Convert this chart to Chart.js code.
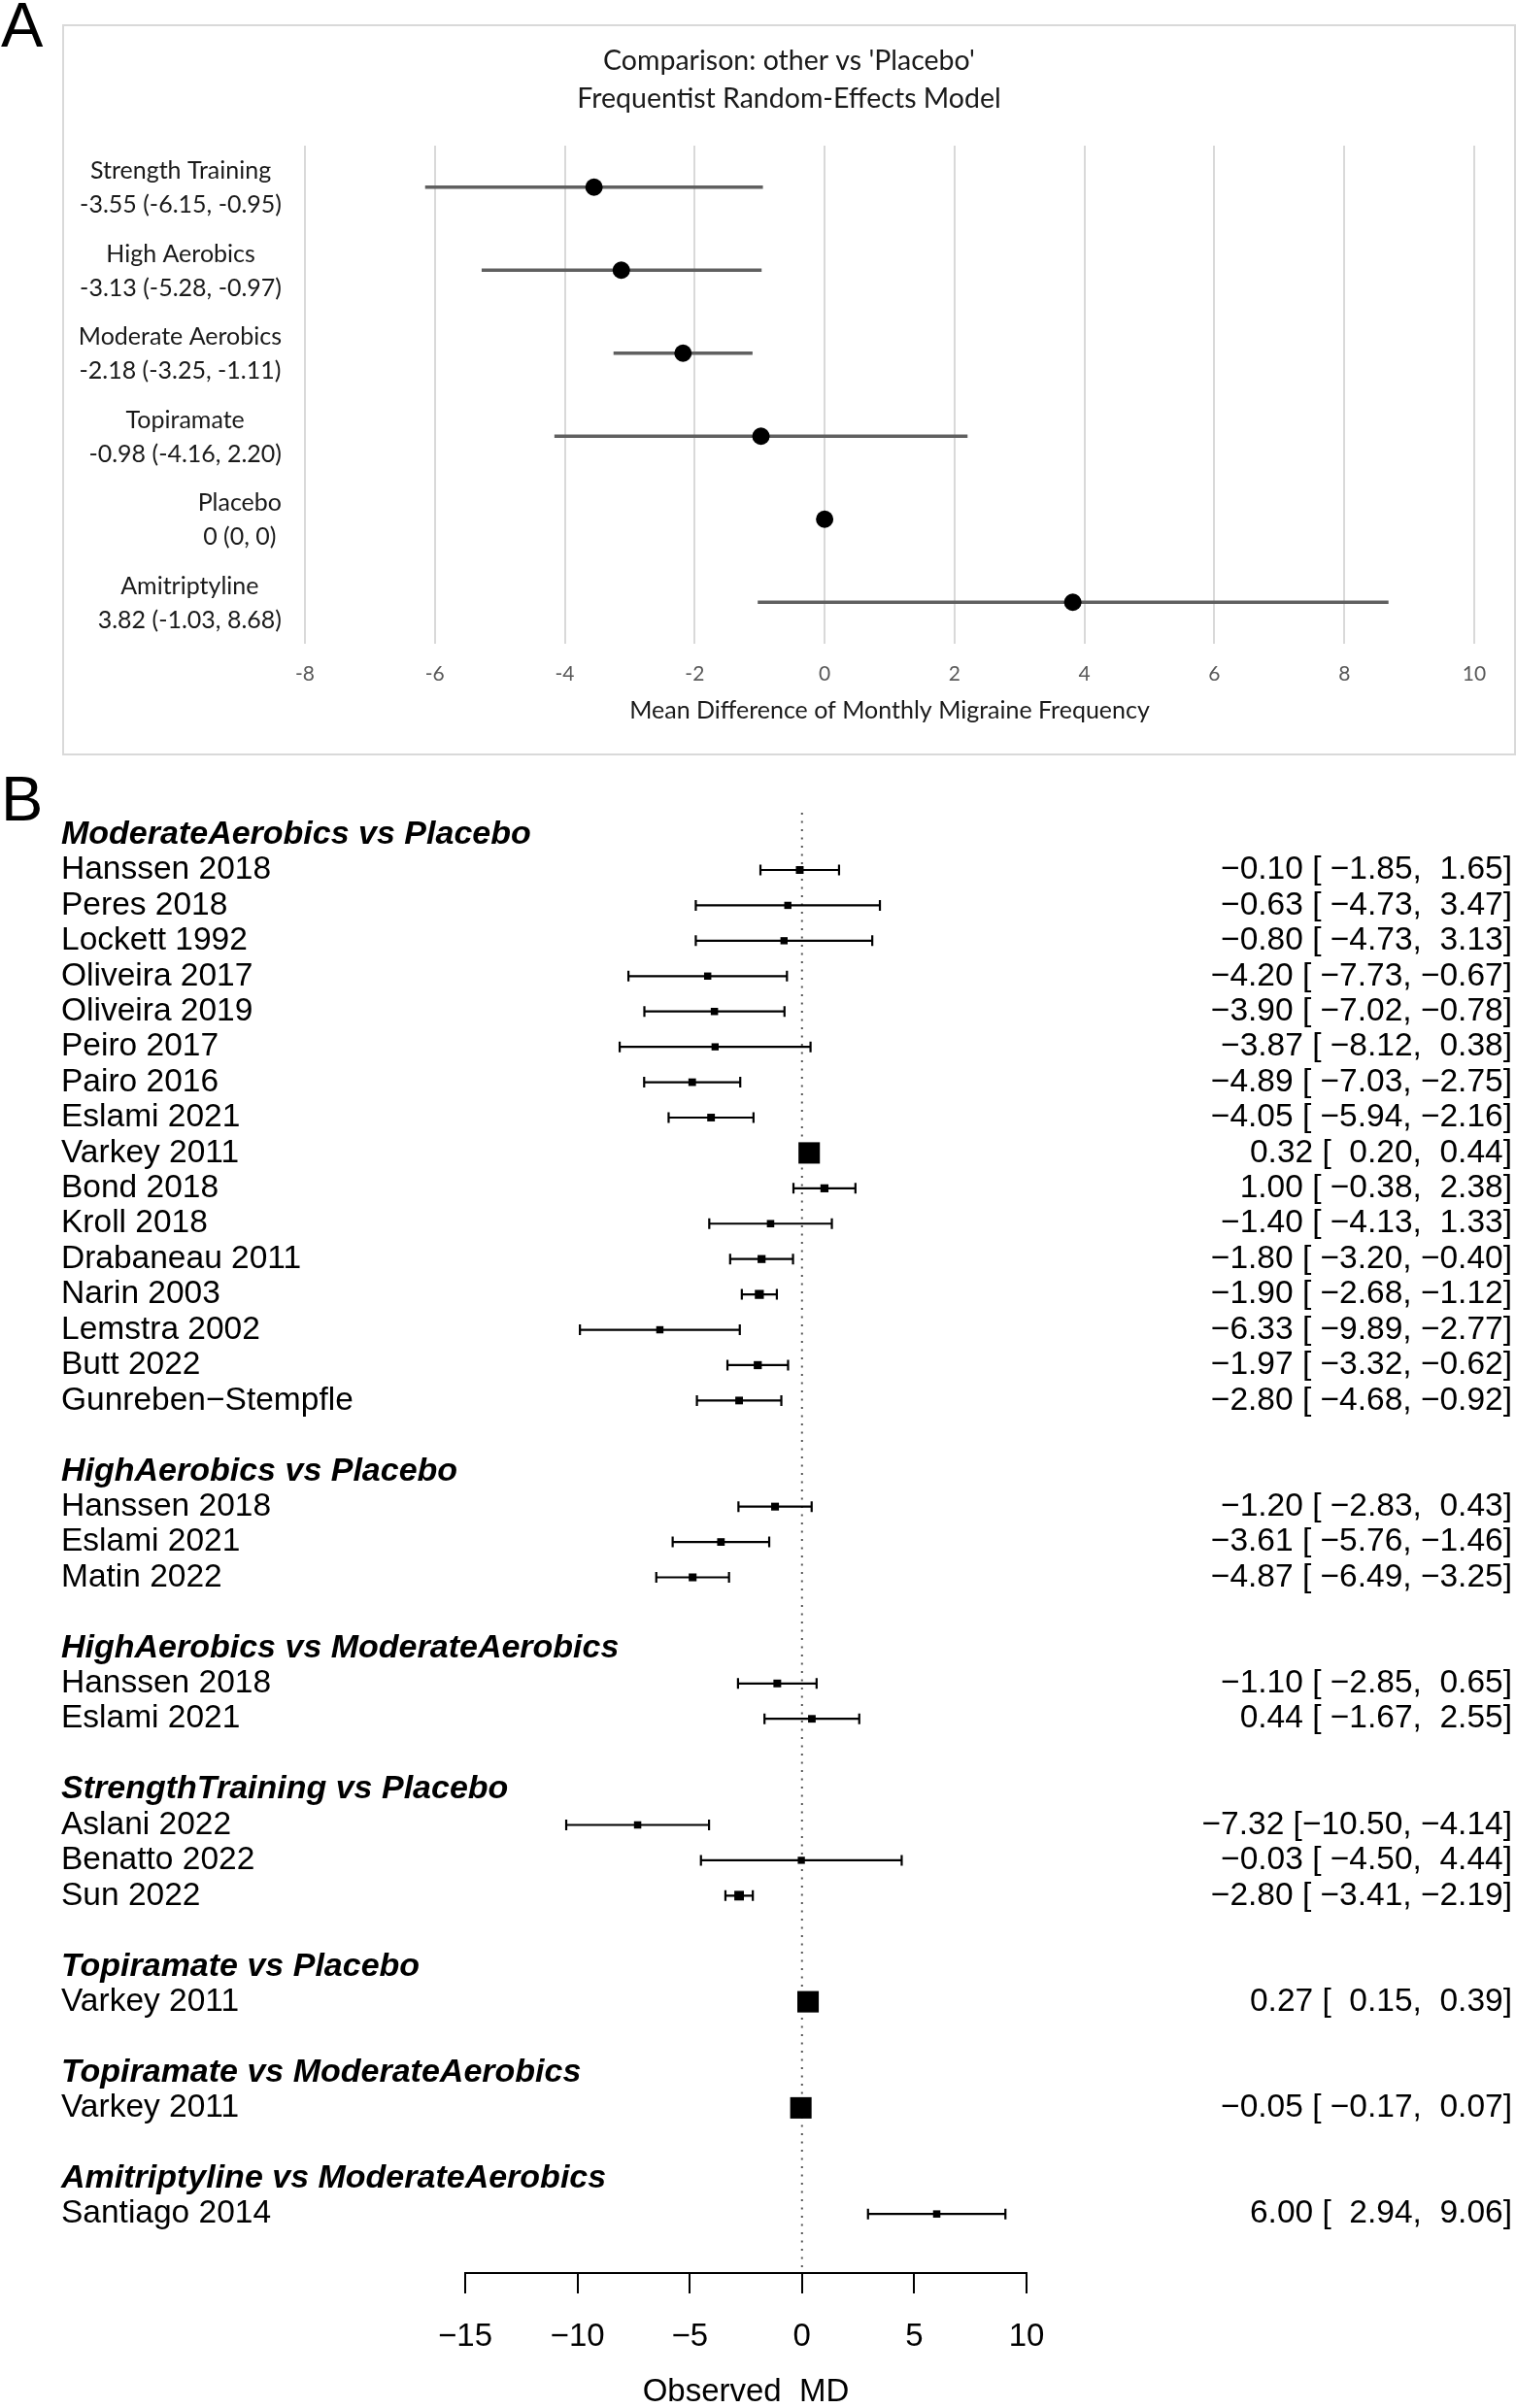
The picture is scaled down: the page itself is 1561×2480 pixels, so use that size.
<!DOCTYPE html>
<html>
<head>
<meta charset="utf-8">
<title>Network meta-analysis forest plots</title>
<script src="https://cdn.jsdelivr.net/npm/chart.js@4.4.1/dist/chart.umd.min.js"></script>
<style>
  body { margin: 0; background: #fff; }
  #page { position: relative; width: 1561px; height: 2480px; overflow: hidden; }
  .letter { position: absolute; left: 1px; font: 65px/65px "Liberation Sans", Arial, sans-serif; color: #000; }
  #boxA { position: absolute; left: 64px; top: 25px; width: 1493px; height: 749px; border: 2px solid #d9d9d9; }
  canvas { position: absolute; }
</style>
</head>
<body>
<div id="page">
  <div class="letter" style="top:-7px">A</div>
  <div id="boxA"></div>
  <canvas id="chartA" width="1493" height="749" style="left:66px;top:27px"></canvas>
  <div class="letter" style="top:790px">B</div>
  <canvas id="chartB" width="1561" height="1690" style="left:0;top:790px"></canvas>
</div>
<script>
// Panel A: network estimates vs placebo
const treatments = ['Strength Training', 'High Aerobics', 'Moderate Aerobics', 'Topiramate', 'Placebo', 'Amitriptyline'];
const nmaMD   = [-3.55, -3.13, -2.18, -0.98, 0, 3.82];
const nmaLow  = [-6.15, -5.28, -3.25, -4.16, 0, -1.03];
const nmaHigh = [-0.95, -0.97, -1.11, 2.20, 0, 8.68];

// Panel B: individual studies, grouped by comparison
const comparisonNames = ['ModerateAerobics vs Placebo', 'HighAerobics vs Placebo', 'HighAerobics vs ModerateAerobics',
  'StrengthTraining vs Placebo', 'Topiramate vs Placebo', 'Topiramate vs ModerateAerobics', 'Amitriptyline vs ModerateAerobics'];
const comparisonStudyCounts = [16, 3, 2, 3, 1, 1, 1];
const studyNames = ['Hanssen 2018', 'Peres 2018', 'Lockett 1992', 'Oliveira 2017', 'Oliveira 2019', 'Peiro 2017', 'Pairo 2016',
  'Eslami 2021', 'Varkey 2011', 'Bond 2018', 'Kroll 2018', 'Drabaneau 2011', 'Narin 2003', 'Lemstra 2002', 'Butt 2022',
  'Gunreben\u2212Stempfle',
  'Hanssen 2018', 'Eslami 2021', 'Matin 2022',
  'Hanssen 2018', 'Eslami 2021',
  'Aslani 2022', 'Benatto 2022', 'Sun 2022',
  'Varkey 2011',
  'Varkey 2011',
  'Santiago 2014'];
const studyMD   = [-0.10, -0.63, -0.80, -4.20, -3.90, -3.87, -4.89, -4.05, 0.32, 1.00, -1.40, -1.80, -1.90, -6.33, -1.97, -2.80,
  -1.20, -3.61, -4.87, -1.10, 0.44, -7.32, -0.03, -2.80, 0.27, -0.05, 6.00];
const studyLow  = [-1.85, -4.73, -4.73, -7.73, -7.02, -8.12, -7.03, -5.94, 0.20, -0.38, -4.13, -3.20, -2.68, -9.89, -3.32, -4.68,
  -2.83, -5.76, -6.49, -2.85, -1.67, -10.50, -4.50, -3.41, 0.15, -0.17, 2.94];
const studyHigh = [1.65, 3.47, 3.13, -0.67, -0.78, 0.38, -2.75, -2.16, 0.44, 2.38, 1.33, -0.40, -1.12, -2.77, -0.62, -0.92,
  0.43, -1.46, -3.25, 0.65, 2.55, -4.14, 4.44, -2.19, 0.39, 0.07, 9.06];

const SANS = '"Liberation Sans", Arial, Helvetica, sans-serif';
const EXCEL = 'Lato, "Open Sans", sans-serif';

// ---------- Panel A ----------
const fmtA = v => v === 0 ? '0' : v.toFixed(2);

const panelA = {
  id: 'panelA',
  beforeDatasetsDraw(chart) {
    const { ctx, scales: { x, y } } = chart;
    ctx.save();
    ctx.strokeStyle = '#606060';
    ctx.lineWidth = 3.5;
    treatments.forEach((t, i) => {
      if (nmaLow[i] === nmaHigh[i]) return;
      const py = y.getPixelForValue(i);
      ctx.beginPath();
      ctx.moveTo(x.getPixelForValue(nmaLow[i]), py);
      ctx.lineTo(x.getPixelForValue(nmaHigh[i]), py);
      ctx.stroke();
    });
    ctx.restore();
  },
  afterDraw(chart) {
    const { ctx, width, scales: { y } } = chart;
    ctx.save();
    ctx.fillStyle = '#1a1a1a';
    ctx.textBaseline = 'middle';
    ctx.textAlign = 'center';
    ctx.font = '28.5px ' + EXCEL;
    ctx.fillText("Comparison: other vs 'Placebo'", width / 2, 36);
    ctx.fillText('Frequentist Random-Effects Model', width / 2, 75);

    ctx.font = '25px ' + EXCEL;
    const right = 224;
    treatments.forEach((t, i) => {
      const lines = [t, `${fmtA(nmaMD[i])} (${fmtA(nmaLow[i])}, ${fmtA(nmaHigh[i])})`];
      const w = Math.max(...lines.map(s => ctx.measureText(s).width));
      const cx = right - w / 2;
      const py = y.getPixelForValue(i);
      ctx.fillText(lines[0], cx, py - 16.5);
      ctx.fillText(lines[1], cx, py + 18.5);
    });
    ctx.restore();
  }
};

new Chart(document.getElementById('chartA'), {
  type: 'scatter',
  data: {
    datasets: [{
      data: treatments.map((t, i) => ({ x: nmaMD[i], y: i })),
      pointRadius: 9,
      pointHoverRadius: 9,
      backgroundColor: '#000',
      borderWidth: 0
    }]
  },
  options: {
    responsive: false,
    animation: false,
    devicePixelRatio: 1,
    events: [],
    layout: { padding: { left: 248, right: 41, top: 123, bottom: 0 } },
    plugins: { legend: { display: false }, tooltip: { enabled: false } },
    scales: {
      x: {
        type: 'linear', min: -8, max: 10,
        afterFit: s => { s.height = 113; },
        ticks: { stepSize: 2, color: '#595959', font: { family: EXCEL, size: 21 }, padding: 19 },
        grid: { color: '#d9d9d9', lineWidth: 2, drawTicks: false },
        border: { display: false },
        title: {
          display: true, text: 'Mean Difference of Monthly Migraine Frequency', color: '#1a1a1a',
          font: { family: EXCEL, size: 25, lineHeight: 1.2 }, padding: { top: 0, bottom: 29 }
        }
      },
      y: { type: 'linear', display: false, reverse: true, min: -0.5, max: 5.5 }
    }
  },
  plugins: [panelA]
});

// ---------- Panel B ----------
// row layout: heading, its studies, blank line between comparisons
const headingRows = [];
const studyRows = [];
let row = 0;
comparisonNames.forEach((c, g) => {
  headingRows.push(row++);
  for (let k = 0; k < comparisonStudyCounts[g]; k++) studyRows.push(row++);
  row++;
});

// square size as in metafor: proportional to 1/SE, rescaled to 0.5..1.5
const invSE = studyMD.map((m, i) => (2 * 1.96) / (studyHigh[i] - studyLow[i]));
const wMin = Math.min(...invSE), wMax = Math.max(...invSE);
const squareSide = invSE.map(w => 14.7 * (0.5 + (w - wMin) / (wMax - wMin)));

const fmtB = v => v.toFixed(2).replace('-', '\u2212');
const padTo = (arr) => { const n = Math.max(...arr.map(s => s.length)); return arr.map(s => s.padStart(n, ' ')); };
const estTxt = padTo(studyMD.map(fmtB));
const lowTxt = padTo(studyLow.map(fmtB));
const highTxt = padTo(studyHigh.map(fmtB));

const panelB = {
  id: 'panelB',
  beforeDatasetsDraw(chart) {
    const { ctx, chartArea, scales: { x, y } } = chart;
    ctx.save();
    const x0 = x.getPixelForValue(0);
    ctx.strokeStyle = '#555';
    ctx.lineWidth = 2;
    ctx.setLineDash([2, 6.5]);
    ctx.beginPath();
    ctx.moveTo(x0, chartArea.top);
    ctx.lineTo(x0, chartArea.bottom);
    ctx.stroke();
    ctx.setLineDash([]);

    ctx.strokeStyle = '#000';
    ctx.lineWidth = 2.2;
    studyNames.forEach((s, i) => {
      const py = y.getPixelForValue(studyRows[i]);
      const xl = x.getPixelForValue(studyLow[i]);
      const xh = x.getPixelForValue(studyHigh[i]);
      ctx.beginPath();
      ctx.moveTo(xl, py); ctx.lineTo(xh, py);
      ctx.moveTo(xl, py - 5.5); ctx.lineTo(xl, py + 5.5);
      ctx.moveTo(xh, py - 5.5); ctx.lineTo(xh, py + 5.5);
      ctx.stroke();
    });
    ctx.restore();
  },
  afterDraw(chart) {
    const { ctx, scales: { y } } = chart;
    ctx.save();
    ctx.fillStyle = '#000';
    ctx.textBaseline = 'middle';
    ctx.textAlign = 'left';
    ctx.font = 'italic bold 34px ' + SANS;
    comparisonNames.forEach((c, g) => ctx.fillText(c, 63, y.getPixelForValue(headingRows[g])));
    ctx.font = '33.5px ' + SANS;
    studyNames.forEach((s, i) => ctx.fillText(s, 63, y.getPixelForValue(studyRows[i])));
    ctx.textAlign = 'right';
    studyNames.forEach((s, i) => {
      ctx.fillText(`${estTxt[i]} [${lowTxt[i]}, ${highTxt[i]}]`, 1557, y.getPixelForValue(studyRows[i]));
    });
    ctx.restore();
  }
};

new Chart(document.getElementById('chartB'), {
  type: 'scatter',
  data: {
    datasets: [{
      data: studyMD.map((m, i) => ({ x: m, y: studyRows[i] })),
      pointStyle: 'rect',
      pointRadius: squareSide.map(s => s / Math.SQRT2),
      pointHoverRadius: squareSide.map(s => s / Math.SQRT2),
      backgroundColor: '#000',
      borderWidth: 0
    }]
  },
  options: {
    responsive: false,
    animation: false,
    devicePixelRatio: 1,
    events: [],
    layout: { padding: { left: 479, right: 504, top: 47, bottom: 0 } },
    plugins: { legend: { display: false }, tooltip: { enabled: false } },
    scales: {
      x: {
        type: 'linear', min: -15, max: 10,
        afterFit: s => { s.height = 139; },
        ticks: {
          stepSize: 5, color: '#000', font: { family: SANS, size: 33 }, padding: 25,
          callback: v => String(v).replace('-', '\u2212')
        },
        grid: { drawOnChartArea: false, drawTicks: true, tickLength: 21, color: '#000', lineWidth: 2 },
        border: { display: true, color: '#000', width: 2 },
        title: {
          display: true, text: 'Observed  MD', color: '#000',
          font: { family: SANS, size: 33, lineHeight: 1 }, padding: { top: 0, bottom: 0 }
        }
      },
      y: { type: 'linear', display: false, reverse: true, min: -0.62, max: 40.67 }
    }
  },
  plugins: [panelB]
});
</script>
</body>
</html>
